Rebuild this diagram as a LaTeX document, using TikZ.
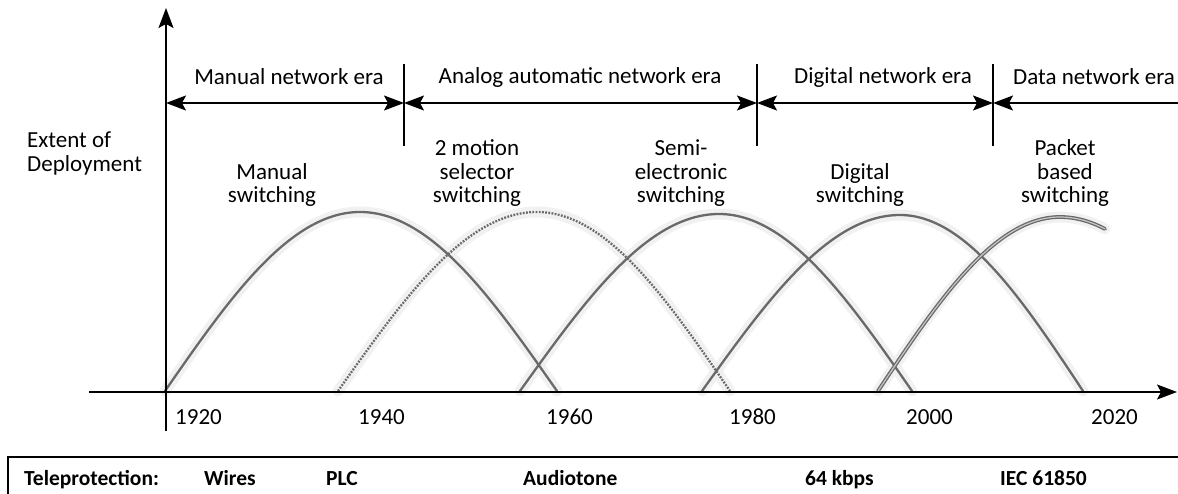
\documentclass[tikz,border=0pt]{standalone}
\usepackage{fontspec}
\setmainfont{Carlito}
\usetikzlibrary{arrows.meta}
\definecolor{curvegray}{RGB}{105,105,105}
\definecolor{halogray}{RGB}{238,238,238}
\begin{document}
\begin{tikzpicture}[x=1pt,y=-1pt,
  >={Stealth[length=20pt,width=15pt,inset=4pt]},
  axis/.style={line width=1.5pt,draw=black},
  eraline/.style={line width=1.5pt,draw=black},
  erabar/.style={line width=1.5pt,draw=black},
  lbl/.style={font=\fontsize{23}{23.5}\selectfont,inner sep=0pt,text=black},
  tlbl/.style={font=\bfseries\fontsize{21.5}{22}\selectfont,inner sep=0pt,anchor=base west,text=black},
  halo/.style={line width=11pt,draw=halogray,line cap=round,opacity=0.8},
  hump/.style={line width=2.3pt,draw=curvegray,line cap=round},
  dotty/.style={line width=2.3pt,draw=curvegray,dash pattern=on 1.8pt off 1.4pt},
  packet/.style={line width=1.3pt,draw=curvegray,double=black!22,double distance=1.2pt,line cap=round}]
\useasboundingbox (0,0) rectangle (1178,494);

% key points of the axes and era markers
\coordinate (O) at (166,392);
\coordinate (ytop) at (166,8);
\coordinate (ybot) at (166,431);
\coordinate (xleft) at (89,392);
\coordinate (xright) at (1177,392);
\coordinate (e0) at (166,103);
\coordinate (e1) at (404,103);
\coordinate (e2) at (757,103);
\coordinate (e3) at (993,103);
\coordinate (e4) at (1178,103);

% deployment curves: start, peak, end
\coordinate (m1) at (165,391); \coordinate (m2) at (360,212); \coordinate (m3) at (557,391);
\coordinate (s1) at (338,391); \coordinate (s2) at (537,212); \coordinate (s3) at (730,391);
\coordinate (e1c) at (520,391); \coordinate (e2c) at (719,214); \coordinate (e3c) at (912,391);
\coordinate (d1) at (702,391); \coordinate (d2) at (900,215); \coordinate (d3) at (1083,391);
\coordinate (p1) at (878,391); \coordinate (p2) at (1060,217);

% soft halo below the curves
\foreach \a/\b/\c in {m1/m2/m3,s1/s2/s3,e1c/e2c/e3c,d1/d2/d3}
  \draw[halo] (\a) sin (\b) cos (\c);
\draw[halo] (p1) sin (p2) -- plot[domain=1060:1105,samples=20] (\x,{217+174*(1-cos((\x-1060)/190*90))});

% curves
\draw[hump] (m1) sin (m2) cos (m3);
\draw[dotty] (s1) sin (s2) cos (s3);
\draw[hump] (e1c) sin (e2c) cos (e3c);
\draw[hump] (d1) sin (d2) cos (d3);
\draw[packet] (p1) sin (p2) -- plot[domain=1060:1105,samples=20] (\x,{217+174*(1-cos((\x-1060)/190*90))});

% axes
\draw[axis,->] (ybot) -- (ytop);
\draw[axis,->] (xleft) -- (xright);

% era separators and spans
\foreach \n in {e1,e2,e3}
  \draw[erabar] ([yshift=-43pt]\n) -- ([yshift=39pt]\n);
\draw[eraline,<->] (e0) -- (e1);
\draw[eraline,<->] (e1) -- (e2);
\draw[eraline,<->] (e2) -- (e3);
\draw[eraline,<-] (e3) -- (e4);

\node[lbl] (era1) at (289,77) {Manual network era};
\node[lbl] (era2) at (580,77) {Analog automatic network era};
\node[lbl] (era3) at (883,77) {Digital network era};
\node[lbl,anchor=west] (era4) at (1013,77) {Data network era};

% axis title
\node[lbl,align=left,anchor=south west] (ylabel) at (27,175) {Extent of\\Deployment};

% curve labels
\node[lbl,align=center,anchor=south] (lm) at (272,207) {Manual\\switching};
\node[lbl,align=center,anchor=south] (ls) at (477,207) {2 motion\\selector\\switching};
\node[lbl,align=center,anchor=south] (le) at (681,207) {Semi-\\electronic\\switching};
\node[lbl,align=center,anchor=south] (ld) at (860,207) {Digital\\switching};
\node[lbl,align=center,anchor=south] (lp) at (1065,207) {Packet\\based\\switching};

% year labels
\node[lbl,anchor=west] (y1920) at (175,417) {1920};
\node[lbl,anchor=west] (y1940) at (358,417) {1940};
\node[lbl,anchor=west] (y1960) at (546,417) {1960};
\node[lbl,anchor=west] (y1980) at (729,417) {1980};
\node[lbl,anchor=west] (y2000) at (906,417) {2000};
\node[lbl,anchor=west] (y2020) at (1091,417) {2020};

% teleprotection strip
\coordinate (bTR) at (1178,457);
\coordinate (bTL) at (8,457);
\coordinate (bBL) at (8,494);
\draw[line width=1.3pt] (bTR) -- (bTL) -- (bBL);
\node[tlbl] (tp) at (24,485) {Teleprotection:};
\node[tlbl] (tw) at (204,485) {Wires};
\node[tlbl] (tplc) at (326,485) {PLC};
\node[tlbl] (ta) at (523,485) {Audiotone};
\node[tlbl] (t64) at (805,485) {64 kbps};
\node[tlbl] (tiec) at (1000,485) {IEC 61850};
\end{tikzpicture}
\end{document}
